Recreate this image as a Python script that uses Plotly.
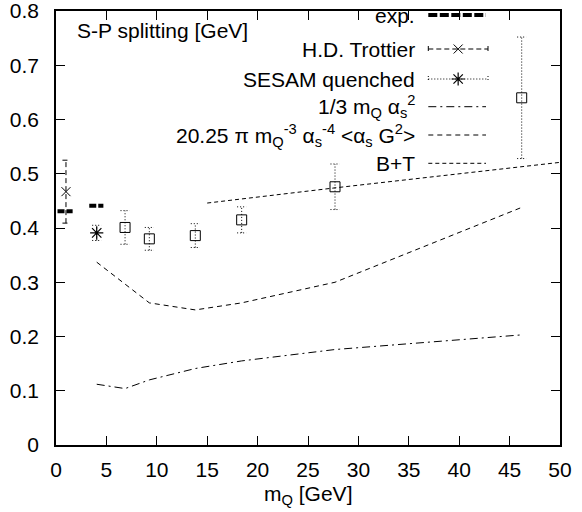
import plotly.graph_objects as go

# ---------------- data ----------------
exp_x_lo = [0.15, 3.3]
exp_x_hi = [1.65, 4.7]
exp_y = [0.431, 0.441]

trottier_x = [0.99]
trottier_y = [0.467]
trottier_err = [0.058]

sesam_x = [4.04]
sesam_y = [0.391]
sesam_err = [0.014]

box_x = [6.85, 9.26, 13.82, 18.42, 27.68, 46.2]
box_y = [0.401, 0.380, 0.386, 0.415, 0.476, 0.640]
box_err = [0.031, 0.021, 0.022, 0.024, 0.042, 0.112]

pert_x = [4.04, 6.85, 9.26, 13.82, 18.42, 27.68, 46.2]
pert_y = [0.112, 0.104, 0.120, 0.141, 0.155, 0.176, 0.203]

gluon_x = [4.04, 6.85, 9.26, 13.82, 18.42, 27.68, 46.2]
gluon_y = [0.337, 0.297, 0.262, 0.249, 0.262, 0.300, 0.438]

bt_x = [15.0, 27.68, 50.0]
bt_y = [0.446, 0.474, 0.521]

x_ticks = [0, 5, 10, 15, 20, 25, 30, 35, 40, 45, 50]
y_ticks = [0, 0.1, 0.2, 0.3, 0.4, 0.5, 0.6, 0.7, 0.8]

legend_labels = [
    "exp.",
    "H.D. Trottier",
    "SESAM quenched",
    "1/3 m<sub>Q</sub> α<sub>s</sub><sup>2</sup>",
    "20.25 π m<sub>Q</sub><sup>-3</sup> α<sub>s</sub><sup>-4</sup> &lt;α<sub>s</sub> G<sup>2</sup>&gt;",
    "B+T",
]

FONT = "Liberation Sans, Arial, sans-serif"
FS = 21
BLACK = "black"


def errbar_path(xs, ys, es, cap):
    px, py = [], []
    for x, y, e in zip(xs, ys, es):
        px += [x, x, None, x - cap, x + cap, None, x - cap, x + cap, None]
        py += [y - e, y + e, None, y - e, y - e, None, y + e, y + e, None]
    return px, py


fig = go.Figure()

# experimental values: thick dashed segments
for lo, hi, y in zip(exp_x_lo, exp_x_hi, exp_y):
    fig.add_trace(go.Scatter(x=[lo, hi], y=[y, y], mode="lines",
                             line=dict(color=BLACK, width=4, dash="7px,2px"),
                             showlegend=False, hoverinfo="skip"))

# H.D. Trottier (dashed error bar, x marker)
ex, ey = errbar_path(trottier_x, trottier_y, trottier_err, 0.35)
fig.add_trace(go.Scatter(x=ex, y=ey, mode="lines",
                         line=dict(color=BLACK, width=1, dash="5px,3px"),
                         showlegend=False, hoverinfo="skip"))
fig.add_trace(go.Scatter(x=trottier_x, y=trottier_y, mode="markers",
                         marker=dict(symbol="x-thin", size=9, color=BLACK,
                                     line=dict(color=BLACK, width=1)),
                         showlegend=False))

# SESAM quenched (dotted error bar, asterisk)
ex, ey = errbar_path(sesam_x, sesam_y, sesam_err, 0.45)
fig.add_trace(go.Scatter(x=ex, y=ey, mode="lines",
                         line=dict(color=BLACK, width=1, dash="1px,2px"),
                         showlegend=False, hoverinfo="skip"))
fig.add_trace(go.Scatter(x=sesam_x, y=sesam_y, mode="markers",
                         marker=dict(symbol="asterisk-open", size=11, color=BLACK,
                                     line=dict(color=BLACK, width=1.2)),
                         showlegend=False))

# boxes with dotted error bars
ex, ey = errbar_path(box_x, box_y, box_err, 0.45)
fig.add_trace(go.Scatter(x=ex, y=ey, mode="lines",
                         line=dict(color=BLACK, width=1, dash="1px,2px"),
                         showlegend=False, hoverinfo="skip"))
fig.add_trace(go.Scatter(x=box_x, y=box_y, mode="markers",
                         marker=dict(symbol="square-open", size=10, color=BLACK,
                                     line=dict(color=BLACK, width=1)),
                         showlegend=False))

# curves
fig.add_trace(go.Scatter(x=pert_x, y=pert_y, mode="lines",
                         line=dict(color=BLACK, width=1, dash="8px,4px,2px,4px"),
                         showlegend=False))
fig.add_trace(go.Scatter(x=gluon_x, y=gluon_y, mode="lines",
                         line=dict(color=BLACK, width=1, dash="5px,4px"),
                         showlegend=False))
fig.add_trace(go.Scatter(x=bt_x, y=bt_y, mode="lines",
                         line=dict(color=BLACK, width=1, dash="4px,3px"),
                         showlegend=False))

# ---------------- gnuplot-style key (pixel coordinate overlay) ----------------
row_y = [15, 49, 79, 106.7, 135, 163.3]
s0, s1 = 428.3, 486.0
smid = (s0 + s1) / 2
key_styles = [
    dict(width=4, dash="9px,2.5px"),
    dict(width=1, dash="5px,3px"),
    dict(width=1, dash="1px,2px"),
    dict(width=1, dash="8px,4px,2px,4px"),
    dict(width=1, dash="5px,4px"),
    dict(width=1, dash="4px,3px"),
]
for i, (ry, st) in enumerate(zip(row_y, key_styles)):
    xs = [s0, s1]
    ys = [ry, ry]
    if i in (1, 2):
        xs = [s0, s0, None, s0, s1 + 2, None, s1 + 2, s1 + 2]
        ys = [ry - 3, ry + 3, None, ry, ry, None, ry - 3, ry + 3]
    fig.add_trace(go.Scatter(x=xs, y=ys, xaxis="x2", yaxis="y2", mode="lines",
                             line=dict(color=BLACK, **st),
                             showlegend=False, hoverinfo="skip"))
fig.add_trace(go.Scatter(x=[smid + 1], y=[row_y[1]], xaxis="x2", yaxis="y2",
                         mode="markers",
                         marker=dict(symbol="x-thin", size=9, color=BLACK,
                                     line=dict(color=BLACK, width=1)),
                         showlegend=False, hoverinfo="skip"))
fig.add_trace(go.Scatter(x=[smid + 1], y=[row_y[2]], xaxis="x2", yaxis="y2",
                         mode="markers",
                         marker=dict(symbol="asterisk-open", size=11, color=BLACK,
                                     line=dict(color=BLACK, width=1.2)),
                         showlegend=False, hoverinfo="skip"))

annotations = []
for ry, lab in zip(row_y, legend_labels):
    annotations.append(dict(x=416.7, y=ry, xref="x2", yref="y2", text=lab,
                            showarrow=False, xanchor="right", yanchor="middle",
                            font=dict(family=FONT, size=FS, color=BLACK)))
annotations.append(dict(x=0.038, y=0.955, xref="paper", yref="paper",
                        text="S-P splitting [GeV]", showarrow=False,
                        xanchor="left", yanchor="middle",
                        font=dict(family=FONT, size=FS, color=BLACK)))
annotations.append(dict(x=0.5, y=-0.115, xref="paper", yref="paper",
                        text="m<sub>Q</sub> [GeV]", showarrow=False,
                        xanchor="center", yanchor="middle",
                        font=dict(family=FONT, size=FS, color=BLACK)))

axis_common = dict(showgrid=False, zeroline=False, showline=True,
                   linecolor=BLACK, linewidth=1.5, mirror="ticks",
                   ticks="inside", ticklen=9, tickwidth=1, tickcolor=BLACK,
                   automargin=False, ticklabeloverflow="allow",
                   tickfont=dict(family=FONT, size=FS, color=BLACK))

fig.update_layout(
    width=582, height=512, autosize=False,
    margin=dict(l=56, r=22, t=11, b=67),
    paper_bgcolor="white", plot_bgcolor="white",
    xaxis=dict(range=[0, 50], tickvals=x_ticks,
               ticktext=[str(v) for v in x_ticks],
               ticklabelstandoff=5, **axis_common),
    yaxis=dict(range=[0, 0.8], tickvals=y_ticks,
               ticktext=[("%g" % v) for v in y_ticks],
               ticklabelstandoff=11, **axis_common),
    xaxis2=dict(range=[56, 560], overlaying="x", visible=False),
    yaxis2=dict(range=[445, 11], overlaying="y", visible=False),
    annotations=annotations,
    showlegend=False,
)

fig.write_html("out.html",
               config={"displayModeBar": False},
               post_script="document.body.style.margin='0';"
                           "document.body.style.overflow='hidden';")
